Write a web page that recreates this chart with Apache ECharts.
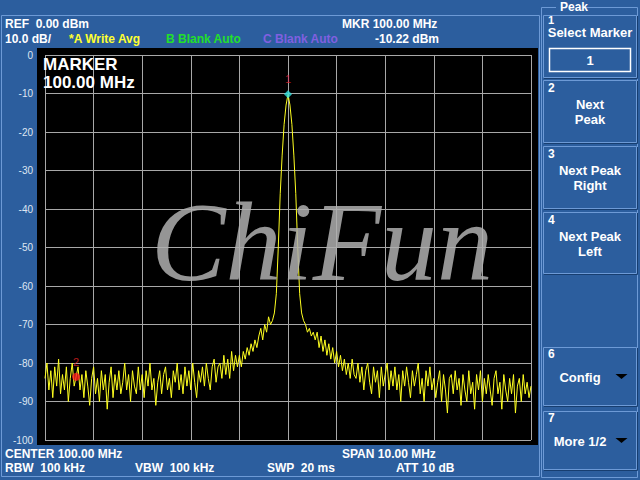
<!DOCTYPE html>
<html><head><meta charset="utf-8">
<script src="https://cdn.jsdelivr.net/npm/echarts@6/dist/echarts.min.js"></script>
<style>html,body{margin:0;padding:0;background:#2c5e9e}#c{width:640px;height:480px}</style>
</head><body><div id="c"></div>
<script>
// ---- data ----
const freqStart = 95.0;   // MHz
const freqStop = 105.0;   // MHz
const freqStep = 0.04;    // MHz per trace sample
const levels = [
 -84,-80,-87,-82,-89,-81,-86,-79,-88,-83,
 -87,-81,-90,-84,-80,-86,-83.6,-81,-87,-83,
 -89,-82,-86,-91,-84,-81,-88,-84,-90,-82,
 -87,-83,-92,-85,-81,-89,-83,-87,-82,-88,
 -85,-80,-87,-83,-90,-82,-86,-88,-81,-87,
 -83,-89,-82,-86,-80,-87,-84,-91,-85,-82,
 -88,-83,-81,-87,-84,-89,-82,-85,-80,-87,
 -83,-88,-81,-86,-82,-87,-80,-85,-89,-82,
 -85,-81,-86,-80,-84,-87,-81,-79,-85,-81,
 -80,-84,-78,-83,-79,-84,-77,-82,-78,-81,
 -78,-81,-77,-79,-76,-78,-75,-77,-74,-76,
 -73,-71,-74,-70,-72,-68,-70,-69,-67,-62,
 -50,-36,-26,-18,-13,-10.22,-13,-18,-26,-36,
 -50,-62,-67,-69,-70,-72,-71,-73,-72,-74,
 -72,-76,-73,-77,-74,-78,-75,-79,-76,-80,
 -77,-81,-78,-82,-79,-83,-80,-84,-79,-83,
 -84,-80,-85,-81,-87,-82,-80,-85,-88,-81,
 -85,-82,-89,-81,-86,-83,-80,-87,-82,-86,
 -81,-87,-83,-90,-82,-86,-81,-85,-89,-82,
 -86,-83,-80,-88,-84,-90,-82,-86,-81,-87,
 -84,-89,-85,-82,-90,-83,-87,-93,-84,-83,
 -88,-82,-87,-84,-91,-83,-87,-90,-82,-88,
 -85,-92,-83,-87,-82,-90,-84,-88,-83,-87,
 -91,-84,-82,-88,-85,-92,-83,-87,-90,-84,
 -88,-83,-93,-86,-84,-90,-83,-88,-85,-89,-86
];
const marker1 = [100.00, -10.22];
const marker2 = [95.64, -83.6];
const refLevel = 0, bottomLevel = -100, dbPerDiv = 10;

const headerTop = ["REF  0.00 dBm", "MKR 100.00 MHz"];
const headerBottom = ["10.0 dB/", "*A Write Avg", "B Blank Auto", "C Blank Auto", "-10.22 dBm"];
const footerTop = ["CENTER 100.00 MHz", "SPAN 10.00 MHz"];
const footerBottom = ["RBW  100 kHz", "VBW  100 kHz", "SWP  20 ms", "ATT 10 dB"];
const markerReadout = ["MARKER", "100.00 MHz"];
const watermark = "ChiFun";
const panelTitle = "Peak";
const softkeys = [
  {num: "1", lines: ["Select Marker"], box: "1"},
  {num: "2", lines: ["Next", "Peak"]},
  {num: "3", lines: ["Next Peak", "Right"]},
  {num: "4", lines: ["Next Peak", "Left"]},
  {num: "6", lines: ["Config"], arrow: true},
  {num: "7", lines: ["More 1/2"], arrow: true}
];

// ---- build ----
const trace = levels.map((v, i) => [+(freqStart + i * freqStep).toFixed(2), v]);
const BLUE = '#2c5e9e', LIGHT = '#6d9ad6', DARK = '#173e70';
const F = '"Liberation Sans", Arial, sans-serif';
const g = [];
function txt(t, x, y, fill, size, opts) {
  g.push({type: 'text', z: 50, style: {text: t, x: x, y: y, fill: fill,
    font: (opts && opts.weight || 'bold') + ' ' + size + 'px ' + F,
    textAlign: (opts && opts.align) || 'left', textVerticalAlign: 'middle'}});
}
// outer frames
g.push({type: 'rect', z: 1, shape: {x: 1.5, y: 15.5, width: 538, height: 461}, style: {fill: 'none', stroke: LIGHT, lineWidth: 1}});
g.push({type: 'rect', z: 1, shape: {x: 541.5, y: 7.5, width: 96, height: 470}, style: {fill: 'none', stroke: LIGHT, lineWidth: 1}});
g.push({type: 'rect', z: 2, shape: {x: 556, y: 1, width: 30, height: 12}, style: {fill: BLUE}});
txt(panelTitle, 560, 7, '#ffffff', 12);
// plot black background
g.push({type: 'rect', z: -10, shape: {x: 37, y: 48, width: 501, height: 397}, style: {fill: '#000000'}});
// header / footer
txt(headerTop[0], 5, 24, '#ffffff', 12);
txt(headerTop[1], 342, 24, '#ffffff', 12);
txt(headerBottom[0], 5, 39, '#ffffff', 12);
txt(headerBottom[1], 69, 39, '#ffff30', 12);
txt(headerBottom[2], 166, 39, '#22e02a', 12);
txt(headerBottom[3], 263, 39, '#8060e0', 12);
txt(headerBottom[4], 375, 39, '#ffffff', 12);
txt(footerTop[0], 5, 454, '#ffffff', 12);
txt(footerTop[1], 342, 454, '#ffffff', 12);
txt(footerBottom[0], 5, 468, '#ffffff', 12);
txt(footerBottom[1], 135, 468, '#ffffff', 12);
txt(footerBottom[2], 267, 468, '#ffffff', 12);
txt(footerBottom[3], 396, 468, '#ffffff', 12);
// marker readout
txt(markerReadout[0], 43, 64, '#ffffff', 17);
txt(markerReadout[1], 43, 82, '#ffffff', 17);
// watermark
g.push({type: 'text', z: 40, style: {text: watermark, x: 322, y: 242, fill: 'rgba(175,175,175,0.85)',
  font: 'italic 112px "Liberation Serif", "Times New Roman", serif', textAlign: 'center', textVerticalAlign: 'middle'}});
// softkeys
const keyBoxes = [[15, 62], [80, 62], [146, 62], [212, 61], [347, 58], [411, 58]];
softkeys.forEach((k, i) => {
  const [top, h] = keyBoxes[i];
  g.push({type: 'rect', z: 3, shape: {x: 543.5, y: top + 0.5, width: 93, height: h}, style: {fill: BLUE, stroke: LIGHT, lineWidth: 1}});
  g.push({type: 'polyline', z: 3, shape: {points: [[544, top + h + 1.5], [637.5, top + h + 1.5], [637.5, top + 1]]}, style: {stroke: DARK, lineWidth: 1, fill: 'none'}});
  if (k.box) {
    txt(k.num, 548, top + 5, '#ffffff', 11);
    txt(k.lines[0], 590, top + 17, '#ffffff', 13, {align: 'center'});
    g.push({type: 'rect', z: 4, shape: {x: 549.5, y: top + 33.5, width: 81, height: 23}, style: {fill: 'none', stroke: '#ffffff', lineWidth: 1.5}});
    txt(k.box, 590, top + 45, '#ffffff', 13, {align: 'center'});
  } else if (k.arrow) {
    txt(k.num, 548, top + 7, '#ffffff', 12);
    txt(k.lines[0], 580, top + 30, '#ffffff', 13, {align: 'center'});
    g.push({type: 'polygon', z: 4, shape: {points: [[615.5, top + 27], [627.5, top + 27], [621.5, top + 32]]}, style: {fill: '#000000'}});
  } else {
    txt(k.num, 548, top + 8, '#ffffff', 12);
    txt(k.lines[0], 590, top + 24, '#ffffff', 13, {align: 'center'});
    txt(k.lines[1], 590, top + 39, '#ffffff', 13, {align: 'center'});
  }
});

const chart = echarts.init(document.getElementById('c'), null, {renderer: 'svg'});
chart.setOption({
  backgroundColor: BLUE,
  animation: false,
  grid: {left: 45, right: 109, top: 55, bottom: 40},
  xAxis: {type: 'value', min: freqStart, max: freqStop, interval: 1,
    axisLine: {show: false}, axisTick: {show: false}, axisLabel: {show: false},
    splitLine: {show: true, lineStyle: {color: '#a8a8a8', width: 1}}},
  yAxis: {type: 'value', min: bottomLevel, max: refLevel, interval: dbPerDiv,
    axisLine: {show: false}, axisTick: {show: false},
    axisLabel: {color: '#dfe6f2', fontSize: 10, fontFamily: F, margin: 12},
    splitLine: {show: true, lineStyle: {color: '#a8a8a8', width: 1}}},
  graphic: g,
  series: [
    {type: 'line', data: trace, symbol: 'none', z: 5,
      lineStyle: {color: '#ffff20', width: 1}},
    {type: 'scatter', data: [marker1], symbol: 'diamond', symbolSize: 8, z: 6,
      itemStyle: {color: '#30e0e0'},
      label: {show: true, formatter: '1', position: 'top', distance: 6, color: '#e02020', fontSize: 11, fontFamily: F}},
    {type: 'scatter', data: [marker2], symbol: 'circle', symbolSize: 8, z: 6,
      itemStyle: {color: '#ff2020'},
      label: {show: true, formatter: '2', position: 'top', distance: 5, color: '#e02020', fontSize: 11, fontFamily: F}}
  ]
});
</script></body></html>
